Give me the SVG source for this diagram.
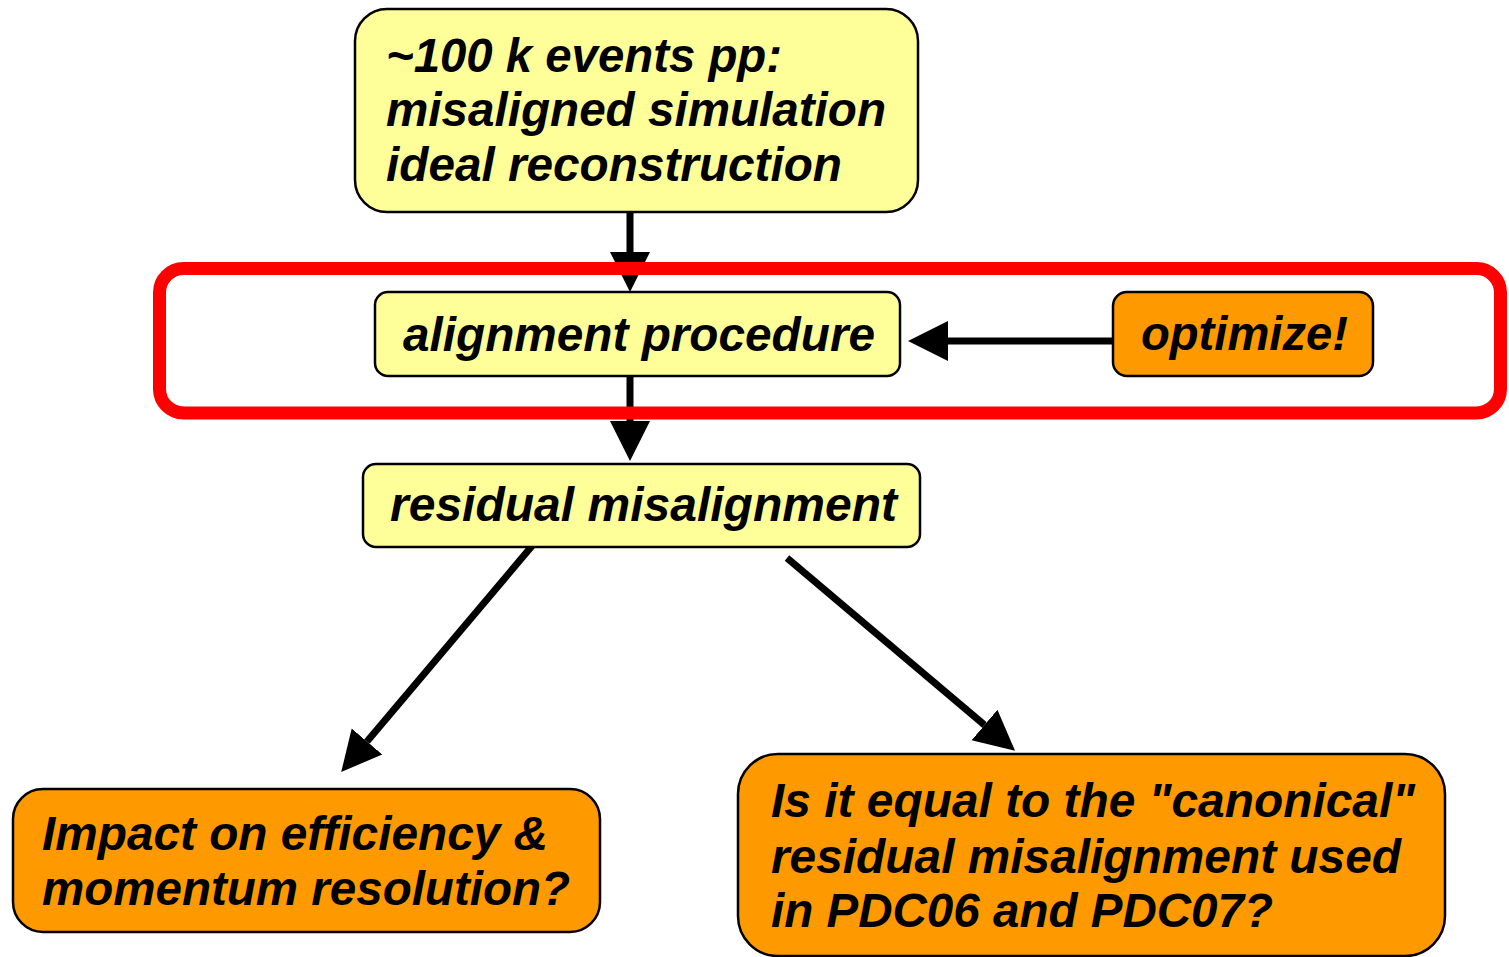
<svg xmlns="http://www.w3.org/2000/svg" width="1509" height="957" viewBox="0 0 1509 957">
<style>
.y{fill:#FFFF99;stroke:#000;stroke-width:2.5}
.o{fill:#FF9900;stroke:#000;stroke-width:2.5}
.t{font-family:"Liberation Sans",Arial,sans-serif;font-weight:bold;font-style:italic;font-size:48px;fill:#000}
.c{stroke:#000;stroke-width:7;fill:none;marker-end:url(#ah)}
</style>
<defs>
<marker id="ah" markerUnits="userSpaceOnUse" markerWidth="42" markerHeight="42" viewBox="0 -21 42 42" refX="0" refY="0" orient="auto">
<path d="M0,-20 L40,0 L0,20 z" fill="#000"/>
</marker>
</defs>
<g id="connectors">
<line class="c" x1="630" y1="212" x2="630" y2="252"/>
<line class="c" x1="630" y1="376" x2="630" y2="421"/>
<line class="c" x1="1113" y1="341" x2="948" y2="341"/>
<line class="c" x1="532" y1="546" x2="367" y2="741.5"/>
<line class="c" x1="787" y1="558" x2="984.5" y2="725"/>
</g>
<g id="frame">
<rect x="159.5" y="268.5" width="1341" height="144.5" rx="24" fill="none" stroke="#FF0000" stroke-width="13"/>
</g>
<g id="n1">
<rect class="y" x="355" y="9" width="563" height="203" rx="32"/>
<text class="t" x="386" y="72" textLength="396" lengthAdjust="spacingAndGlyphs">~100 k events pp:</text>
<text class="t" x="386" y="126" textLength="500" lengthAdjust="spacingAndGlyphs">misaligned simulation</text>
<text class="t" x="386" y="181" textLength="456" lengthAdjust="spacingAndGlyphs">ideal reconstruction</text>
</g>
<g id="n2">
<rect class="y" x="375" y="292" width="525" height="84" rx="13"/>
<text class="t" x="403" y="351" textLength="472" lengthAdjust="spacingAndGlyphs">alignment procedure</text>
</g>
<g id="n3">
<rect class="o" x="1113" y="292" width="260" height="84" rx="14"/>
<text class="t" x="1141" y="350" textLength="207" lengthAdjust="spacingAndGlyphs">optimize!</text>
</g>
<g id="n4">
<rect class="y" x="363" y="464" width="557" height="83" rx="13"/>
<text class="t" x="390" y="521" textLength="507" lengthAdjust="spacingAndGlyphs">residual misalignment</text>
</g>
<g id="n5">
<rect class="o" x="13" y="789" width="587" height="143" rx="30"/>
<text class="t" x="42" y="850" textLength="506" lengthAdjust="spacingAndGlyphs">Impact on efficiency &amp;</text>
<text class="t" x="42" y="905" textLength="528" lengthAdjust="spacingAndGlyphs">momentum resolution?</text>
</g>
<g id="n6">
<rect class="o" x="738" y="754" width="707" height="202" rx="40"/>
<text class="t" x="771" y="817" textLength="644" lengthAdjust="spacingAndGlyphs">Is it equal to the "canonical"</text>
<text class="t" x="771" y="873" textLength="630" lengthAdjust="spacingAndGlyphs">residual misalignment used</text>
<text class="t" x="771" y="927" textLength="502" lengthAdjust="spacingAndGlyphs">in PDC06 and PDC07?</text>
</g>
</svg>
